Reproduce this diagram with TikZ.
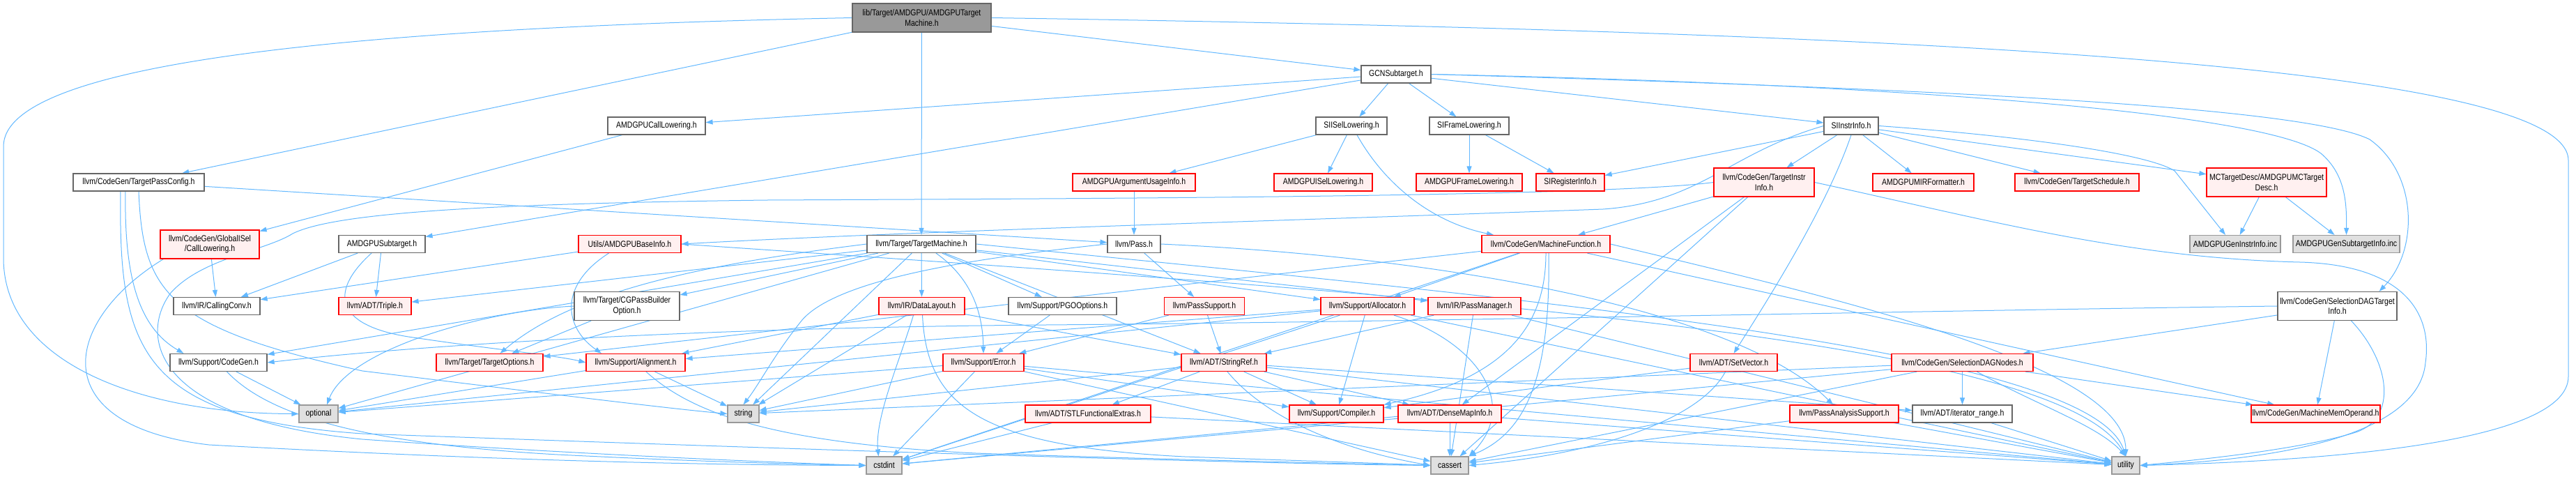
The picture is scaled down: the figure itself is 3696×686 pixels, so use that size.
\documentclass[tikz,border=0pt]{standalone}
\usepackage{fontspec}
\setmainfont{Liberation Sans}[FakeStretch=0.84]
\usetikzlibrary{arrows.meta}
\pgfdeclarelayer{bg}
\pgfsetlayers{bg,main}
\definecolor{edgec}{HTML}{63B8FF}
\definecolor{nodered}{HTML}{FF0000}
\definecolor{nodepink}{HTML}{FFF0F0}
\definecolor{nodegray}{HTML}{666666}
\definecolor{sysfill}{HTML}{E0E0E0}
\definecolor{sysbd}{HTML}{999999}
\definecolor{rootfill}{HTML}{999999}
\definecolor{rootbd}{HTML}{666666}
\newcommand{\fsz}{\fontsize{12.5}{14.5}\selectfont}
\tikzset{
 base/.style={draw, rectangle, minimum height=25pt, inner xsep=1pt, inner ysep=1pt, font=\fsz, line width=1.2pt, align=center, text=black},
 wn/.style={base, draw=nodegray, fill=white},
 rn/.style={base, draw=nodered, fill=nodepink},
 gn/.style={base, draw=sysbd, fill=sysfill},
 rootn/.style={base, draw=rootbd, fill=rootfill},
 two/.style={minimum height=41pt},
 e/.style={draw=edgec, line width=1pt, -{Triangle[length=10pt,width=7pt]}},
}
\begin{document}
\begin{tikzpicture}[x=1pt,y=-1pt]
\useasboundingbox (0,0) rectangle (3696,686);
% row 1-3
\node[rootn,two,minimum width=199pt] (R) at (1322.5,25.5) {lib/Target/AMDGPU/AMDGPUTarget\\Machine.h};
\node[wn,minimum width=100pt] (gcn) at (2003,106.5) {GCNSubtarget.h};
\node[wn,minimum width=140pt] (acl) at (942,180.5) {AMDGPUCallLowering.h};
\node[wn,minimum width=102pt] (siisel) at (1939,180.5) {SIISelLowering.h};
\node[wn,minimum width=114pt] (sifr) at (2108,180.5) {SIFrameLowering.h};
\node[wn,minimum width=78pt] (sii) at (2656,180.5) {SIInstrInfo.h};
% row 4
\node[wn,minimum width=188pt] (tpc) at (199,261.5) {llvm/CodeGen/TargetPassConfig.h};
\node[rn,minimum width=176pt] (argu) at (1627,261.5) {AMDGPUArgumentUsageInfo.h};
\node[rn,minimum width=141pt] (aisel) at (1898.5,261.5) {AMDGPUISelLowering.h};
\node[rn,minimum width=152pt] (afr) at (2108,261.5) {AMDGPUFrameLowering.h};
\node[rn,minimum width=98pt] (sireg) at (2253,261.5) {SIRegisterInfo.h};
\node[rn,two,minimum width=144pt] (tii) at (2531,261.5) {llvm/CodeGen/TargetInstr\\Info.h};
\node[rn,minimum width=145pt] (mirf) at (2759.5,261.5) {AMDGPUMIRFormatter.h};
\node[rn,minimum width=178pt] (tsch) at (2980,261.5) {llvm/CodeGen/TargetSchedule.h};
\node[rn,two,minimum width=172pt] (mctd) at (3252,261.5) {MCTargetDesc/AMDGPUMCTarget\\Desc.h};
% row 5
\node[rn,two,minimum width=142pt] (gisel) at (301,350.5) {llvm/CodeGen/GlobalISel\\/CallLowering.h};
\node[wn,minimum width=124pt] (asub) at (548,350) {AMDGPUSubtarget.h};
\node[rn,minimum width=147pt] (bi) at (903.5,350) {Utils/AMDGPUBaseInfo.h};
\node[wn,minimum width=156pt] (tm) at (1322,350) {llvm/Target/TargetMachine.h};
\node[wn,minimum width=76pt] (pass) at (1627,350) {llvm/Pass.h};
\node[rn,minimum width=184pt] (mf) at (2218,350) {llvm/CodeGen/MachineFunction.h};
\node[gn,minimum width=130pt] (geninstr) at (3207,350) {AMDGPUGenInstrInfo.inc};
\node[gn,minimum width=153pt] (gensub) at (3366.5,350) {AMDGPUGenSubtargetInfo.inc};
% row 6
\node[wn,minimum width=124pt] (cc) at (311,439) {llvm/IR/CallingConv.h};
\node[rn,minimum width=104pt] (triple) at (538,439) {llvm/ADT/Triple.h};
\node[wn,two,minimum width=151pt] (cgpb) at (899.5,439) {llvm/Target/CGPassBuilder\\Option.h};
\node[rn,minimum width=123pt] (dl) at (1322.5,439) {llvm/IR/DataLayout.h};
\node[wn,minimum width=155pt] (pgo) at (1524.5,439) {llvm/Support/PGOOptions.h};
\node[rn,minimum width=115pt] (ps) at (1728,439) {llvm/PassSupport.h};
\node[rn,minimum width=134pt] (alloc) at (1962,439) {llvm/Support/Allocator.h};
\node[rn,minimum width=133pt] (pm) at (2115.5,439) {llvm/IR/PassManager.h};
\node[wn,two,minimum width=171pt] (sdti) at (3353.5,439) {llvm/CodeGen/SelectionDAGTarget\\Info.h};
% row 7
\node[wn,minimum width=139pt] (cg) at (313.5,520) {llvm/Support/CodeGen.h};
\node[rn,minimum width=153pt] (topt) at (702.5,520) {llvm/Target/TargetOptions.h};
\node[rn,minimum width=142pt] (alig) at (912,520) {llvm/Support/Alignment.h};
\node[rn,minimum width=116pt] (err) at (1411,520) {llvm/Support/Error.h};
\node[rn,minimum width=122pt] (sref) at (1756,520) {llvm/ADT/StringRef.h};
\node[rn,minimum width=125pt] (sv) at (2487.5,520) {llvm/ADT/SetVector.h};
\node[rn,minimum width=203pt] (sdn) at (2815.5,520) {llvm/CodeGen/SelectionDAGNodes.h};
% row 8
\node[gn,minimum width=56pt] (opt) at (457,593.5) {optional};
\node[gn,minimum width=45pt] (str) at (1066.5,593.5) {string};
\node[rn,minimum width=180pt] (stlfe) at (1561,593.5) {llvm/ADT/STLFunctionalExtras.h};
\node[rn,minimum width=135pt] (comp) at (1917.5,593.5) {llvm/Support/Compiler.h};
\node[rn,minimum width=148pt] (dmi) at (2080,593.5) {llvm/ADT/DenseMapInfo.h};
\node[rn,minimum width=156pt] (pas) at (2646,593.5) {llvm/PassAnalysisSupport.h};
\node[wn,minimum width=143pt] (itr) at (2815.5,593.5) {llvm/ADT/iterator\_range.h};
\node[rn,minimum width=185pt] (mmo) at (3322.5,593.5) {llvm/CodeGen/MachineMemOperand.h};
% row 9
\node[gn,minimum width=51pt] (cstdint) at (1268.5,667.5) {cstdint};
\node[gn,minimum width=54pt] (cassert) at (2080,667.5) {cassert};
\node[gn,minimum width=40pt] (util) at (3050,667.5) {utility};

\begin{pgfonlayer}{bg}
% root
\draw[e] (R.west) .. controls (500,40) and (5,90) .. (5,210) -- (5,370) .. controls (5,520) and (200,593) .. (opt.west);
\draw[e] (R.east) .. controls (2700,45) and (3685,90) .. (3685,230) -- (3685,540) .. controls (3685,640) and (3300,662) .. (util.east);
\draw[e] (R) -- (gcn);
\draw[e] (R) -- (tpc);
\draw[e] (R) -- (tm);
% gcn
\draw[e] (gcn) -- (acl);
\draw[e] (gcn) -- (asub);
\draw[e] (gcn) -- (siisel);
\draw[e] (gcn) -- (sifr);
\draw[e] (gcn) -- (sii);
\draw[e] (gcn.east) .. controls (2700,125) and (3300,150) .. (3400,200) .. controls (3470,250) and (3470,360) .. ([xshift=-26pt]sdti.north east);
\draw[e] (gcn.east) .. controls (2700,120) and (3250,160) .. (3330,220) .. controls (3365,250) and (3367,290) .. (gensub.north);
% sii
\draw[e] (sii) -- (sireg);
\draw[e] (sii.west) .. controls (2480,220) and (2440,290) .. (2300,300) .. controls (1800,318) and (1300,332) .. (bi.east);
\draw[e] (sii) -- (tii);
\draw[e] (sii.south) .. controls (2620,300) and (2530,440) .. (sv.north);
\draw[e] (sii) -- (mirf);
\draw[e] (sii) -- (tsch);
\draw[e] (sii) -- (mctd);
\draw[e] (sii.east) .. controls (2900,195) and (3080,220) .. (3120,245) -- ([xshift=-14pt]geninstr.north);
% mctd
\draw[e] (mctd) -- (geninstr);
\draw[e] (mctd) -- (gensub);
% tpc
\draw[e] (tpc) -- (pass);
\draw[e] ([xshift=-19pt]tpc.south) .. controls (178,400) and (200,470) .. ([xshift=-50pt]cg.north);
\draw[e] (tpc.south) .. controls (205,420) and (240,470) .. (520,532) .. controls (750,560) and (950,585) .. (str.west);
\draw[e] ([xshift=-26pt]tpc.south) .. controls (170,500) and (200,600) .. (520,622) .. controls (1300,650) and (1800,665) .. (cassert.west);
% acl, gisel
\draw[e] (acl) -- (gisel);
\draw[e] (gisel) -- (cc);
\draw[e] ([xshift=5pt]gisel.south west) .. controls (90,460) and (60,610) .. (300,638) .. controls (700,660) and (1000,667) .. (cstdint.west);
% asub
\draw[e] (asub) -- (cc);
\draw[e] (asub) -- (triple);
\draw[e] ([xshift=-15pt]asub.south) .. controls (470,420) and (480,470) .. (600,485) .. controls (700,500) and (800,510) .. (alig.west);
% bi
\draw[e] (bi) -- (cc);
\draw[e] ([xshift=-30pt]bi.south) .. controls (800,410) and (810,470) .. ([xshift=-49pt]alig.north);
\draw[e] (bi.east) .. controls (2000,420) and (2950,480) .. (util.north);
% tm
\draw[e] (tm) -- (triple);
\draw[e] (tm) -- (cgpb);
\draw[e] (tm) -- (dl);
\draw[e] (tm) -- (pgo);
\draw[e] ([xshift=21pt]tm.south) .. controls (1395,400) and (1410,450) .. (err.north);
\draw[e] (tm) -- (sref);
\draw[e] (tm) -- (pm);
\draw[e] (tm) -- (alloc);
\draw[e] (tm) -- (cg);
\draw[e] (tm.west) .. controls (1000,380) and (820,420) .. ([xshift=15pt]topt.north);
\draw[e] (tm) -- (opt);
\draw[e] (tm) -- (str);
\draw[e] (tm.east) .. controls (2200,430) and (3000,500) .. (util.north);
% pass
\draw[e] (pass) -- (ps);
\draw[e] (pass.east) .. controls (2100,370) and (2500,450) .. ([xshift=-16pt]pas.north);
\draw[e] (pass.west) .. controls (1400,370) and (1200,400) .. (1150,460) .. controls (1110,510) and (1090,550) .. (str.north);
\draw[e] (argu) -- (pass);
% siisel, sifr
\draw[e] (siisel) -- (argu);
\draw[e] (siisel) -- (aisel);
\draw[e] ([xshift=8pt]siisel.south) .. controls (1990,270) and (2060,320) .. ([xshift=-75pt]mf.north);
\draw[e] (sifr) -- (afr);
\draw[e] (sifr) -- (sireg);
% tii
\draw[e] (tii) -- (mf);
\draw[e] (tii) -- (dmi);
\draw[e] (tii) -- (cassert);
\draw[e] (tii.west) .. controls (2300,283) and (1500,285) .. (1100,287) .. controls (700,292) and (480,305) .. (420,335) .. controls (380,360) and (290,370) .. (245,420) .. controls (200,480) and (215,600) .. (520,630) .. controls (800,650) and (1100,663) .. (cstdint.west);
\draw[e] (tii.east) .. controls (2850,315) and (3050,370) .. (3300,376) .. controls (3450,380) and (3490,450) .. (3480,520) .. controls (3470,630) and (3250,660) .. (util.east);
% mf
\draw[e] (mf) -- (alloc);
\draw[e] (mf) -- (topt);
\draw[e] (mf.south) .. controls (2218,460) and (2170,540) .. (comp.north east);
\draw[e] ([xshift=4pt]mf.south) .. controls (2225,540) and (2190,620) .. (cassert.north east);
\draw[e] (mf) -- (mmo);
\draw[e] (mf) -- (cstdint);
\draw[e] (mf.east) .. controls (2600,420) and (3050,520) .. (util.north);
% sdti
\draw[e] (sdti.west) .. controls (2800,445) and (2000,462) .. (1500,466) .. controls (1000,470) and (600,495) .. (cg.east);
\draw[e] (sdti) -- (sdn);
\draw[e] (sdti) -- (mmo);
\draw[e] ([xshift=20pt]sdti.south) .. controls (3430,520) and (3440,600) .. (3380,620) .. controls (3300,645) and (3150,660) .. (util.east);
% cgpb
\draw[e] (cgpb) -- (topt);
\draw[e] (cgpb.west) .. controls (700,445) and (500,500) .. ([xshift=12pt]opt.north);
% dl
\draw[e] (dl) -- (alig);
\draw[e] (dl) -- (sref);
\draw[e] (dl) -- (str);
\draw[e] ([xshift=1pt]dl.south) .. controls (1330,580) and (1400,640) .. (1700,655) .. controls (1900,662) and (2000,665) .. (cassert.west);
\draw[e] ([xshift=-12pt]dl.south) .. controls (1290,520) and (1255,600) .. ([xshift=-8pt]cstdint.north);
% pgo, ps
\draw[e] (pgo) -- (err);
\draw[e] (ps) -- (err);
\draw[e] (ps) -- (sref);
% alloc
\draw[e] (alloc) -- (alig);
\draw[e] (alloc) -- (comp);
\draw[e] ([xshift=38pt]alloc.south) .. controls (2120,490) and (2180,580) .. (cassert.north east);
\draw[e] (alloc) -- (cstdint);
\draw[e] (alloc) -- (opt);
\draw[e] (alloc) -- (util);
% pm
\draw[e] (pm) -- (sref);
\draw[e] (pm) -- (cassert);
\draw[e] (pm) -- (util);
% cg
\draw[e] (cg) -- (opt);
\draw[e] ([xshift=12pt]cg.south) .. controls (380,590) and (500,635) .. (800,652) .. controls (1000,662) and (1150,666) .. (cstdint.west);
% alig
\draw[e] (alig) -- (opt);
\draw[e] (alig) -- (str);
\draw[e] ([xshift=15pt]alig.south) .. controls (990,590) and (1100,635) .. (1400,650) .. controls (1700,660) and (1950,665) .. (cassert.west);
% err
\draw[e] (err) -- (comp);
\draw[e] (err) -- (cassert);
\draw[e] (err) -- (cstdint);
\draw[e] (err) -- (opt);
\draw[e] (err) -- (str);
\draw[e] (err) -- (util);
% sref
\draw[e] (sref) -- (stlfe);
\draw[e] (sref) -- (comp);
\draw[e] (sref) -- (dmi);
\draw[e] (sref) -- (itr);
\draw[e] ([xshift=5pt]sref.south) .. controls (1825,610) and (1950,650) .. (cassert.west);
\draw[e] (sref) -- (str);
\draw[e] (sref) -- (util);
% sv
\draw[e] (sv) -- (comp);
\draw[e] ([xshift=-12pt]sv.south) .. controls (2440,600) and (2300,650) .. (cassert.east);
% sdn
\draw[e] (sdn) -- (itr);
\draw[e] (sdn) -- (mmo);
\draw[e] (sdn) -- (cassert);
\draw[e] (sdn) -- (cstdint);
\draw[e] (sdn) -- (str);
\draw[e] ([xshift=21pt]sdn.south) .. controls (2920,580) and (3010,610) .. (util.north);
% leaves
\draw[e] (stlfe) -- (cstdint);
\draw[e] (stlfe) -- (util);
\draw[e] (dmi) -- (cassert);
\draw[e] (dmi) -- (cstdint);
\draw[e] (dmi) -- (util);
\draw[e] (pas) -- (cassert);
\draw[e] (pas) -- (util);
\draw[e] (itr) -- (util);
\end{pgfonlayer}
\end{tikzpicture}
\end{document}
